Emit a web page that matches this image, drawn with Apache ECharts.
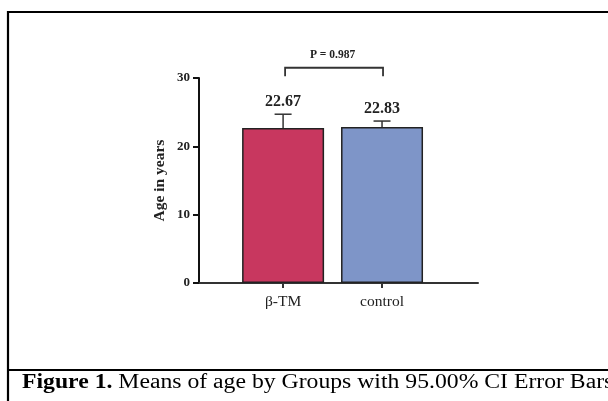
<!DOCTYPE html>
<html>
<head>
<meta charset="utf-8">
<script src="https://cdn.jsdelivr.net/npm/echarts@6/dist/echarts.min.js"></script>
<style>
html,body{margin:0;padding:0;background:#fff;}
#chart{width:608px;height:401px;}
</style>
</head>
<body>
<div id="chart"></div>
<script>
// ---- data ----
const categories = ['β-TM', 'control'];
const means = [22.67, 22.83];
const ciUpper = [24.7, 23.7];
const meanLabels = ['22.67', '22.83'];
const yTicks = [0, 10, 20, 30];
const pText = 'P = 0.987';
const captionBold = 'Figure 1.';
const captionRest = ' Means of age by Groups with 95.00% CI Error Bars';
const yAxisTitle = 'Age in years';

// ---- styling ----
const SERIF = '"Liberation Serif", "Times New Roman", serif';
const barColors = ['#C8375F', '#7E95C8'];
const BRACKET_Y = 31.5, BRACKET_LEG = 30.25;

const chart = echarts.init(document.getElementById('chart'), null, {renderer: 'canvas'});

const barData = categories.map((c, i) => ({
  value: [i, means[i]],
  itemStyle: {color: barColors[i]}
}));
const errData = categories.map((c, i) => [i, means[i], ciUpper[i]]);

const option = {
  backgroundColor: '#fff',
  animation: false,
  grid: {left: 199, right: 130, top: 78, bottom: 118, containLabel: false},
  xAxis: {
    type: 'value',
    min: -0.85,
    max: 1.97,
    splitLine: {show: false},
    axisLine: {show: true, onZero: false, lineStyle: {color: '#333', width: 2}},
    axisTick: {show: true, customValues: [0, 1], length: 5, lineStyle: {color: '#333', width: 2}},
    axisLabel: {
      show: true, customValues: [0, 1], margin: 11,
      formatter: v => categories[Math.round(v)] || '',
      fontFamily: SERIF, fontSize: 15.5, color: '#222'
    }
  },
  yAxis: {
    type: 'value',
    min: yTicks[0],
    max: yTicks[yTicks.length - 1],
    interval: 10,
    name: yAxisTitle,
    nameLocation: 'middle',
    nameGap: 31,
    nameTextStyle: {fontFamily: SERIF, fontWeight: 'bold', fontSize: 15.5, color: '#222'},
    splitLine: {show: false},
    axisLine: {show: true, onZero: false, lineStyle: {color: '#111', width: 2}},
    axisTick: {show: true, length: 6, lineStyle: {color: '#111', width: 2}},
    axisLabel: {margin: 9, fontFamily: SERIF, fontWeight: 'bold', fontSize: 13, color: '#222'}
  },
  series: [
    {
      type: 'bar',
      data: barData,
      barWidth: 82,
      itemStyle: {borderColor: '#222', borderWidth: 1.5}
    },
    {
      type: 'custom',
      clip: false,
      data: errData,
      z: 5,
      renderItem: function (params, api) {
        const x = api.value(0);
        const p0 = api.coord([x, api.value(1)]);
        const p1 = api.coord([x, api.value(2)]);
        const cap = 8.5;
        const st = {stroke: '#333', lineWidth: 1.5};
        return {
          type: 'group',
          children: [
            {type: 'line', shape: {x1: p0[0], y1: p0[1], x2: p1[0], y2: p1[1]}, style: st},
            {type: 'line', shape: {x1: p1[0] - cap, y1: p1[1], x2: p1[0] + cap, y2: p1[1]}, style: st},
            {type: 'text', style: {
              x: p1[0], y: p1[1] - 4, text: meanLabels[params.dataIndex],
              align: 'center', verticalAlign: 'bottom',
              font: 'bold 16px ' + SERIF, fill: '#222'
            }}
          ]
        };
      }
    },
    {
      type: 'custom',
      clip: false,
      data: [[0, 1]],
      z: 5,
      renderItem: function (params, api) {
        const a = api.coord([api.value(0), BRACKET_Y]);
        const b = api.coord([api.value(1), BRACKET_Y]);
        const aL = api.coord([api.value(0), BRACKET_LEG]);
        const bL = api.coord([api.value(1), BRACKET_LEG]);
        const st = {stroke: '#333', lineWidth: 1.8, fill: 'none'};
        return {
          type: 'group',
          children: [
            {type: 'polyline', shape: {points: [[aL[0] + 2, aL[1]], [a[0] + 2, a[1]], [b[0] + 1, b[1]], [bL[0] + 1, bL[1]]]}, style: st},
            {type: 'text', style: {
              x: (a[0] + b[0]) / 2, y: a[1] - 7, text: pText,
              align: 'center', verticalAlign: 'bottom',
              font: 'bold 11.5px ' + SERIF, fill: '#222'
            }}
          ]
        };
      }
    }
  ],
  graphic: [
    {type: 'polyline', silent: true, z: 100,
      shape: {points: [[8, 401], [8, 12], [610, 12]]},
      style: {stroke: '#000', lineWidth: 2.2, fill: 'none'}},
    {type: 'line', silent: true, z: 100,
      shape: {x1: 8, y1: 370, x2: 610, y2: 370},
      style: {stroke: '#000', lineWidth: 2}},
    {type: 'text', silent: true, z: 100,
      x: 22, y: 383, scaleX: 1.185,
      style: {
        x: 0, y: 0,
        text: '{b|' + captionBold + '}{n|' + captionRest + '}',
        verticalAlign: 'middle',
        rich: {
          b: {fontFamily: SERIF, fontWeight: 'bold', fontSize: 20, fill: '#000'},
          n: {fontFamily: SERIF, fontSize: 20, fill: '#000'}
        }
      }}
  ]
};
chart.setOption(option);
</script>
</body>
</html>
